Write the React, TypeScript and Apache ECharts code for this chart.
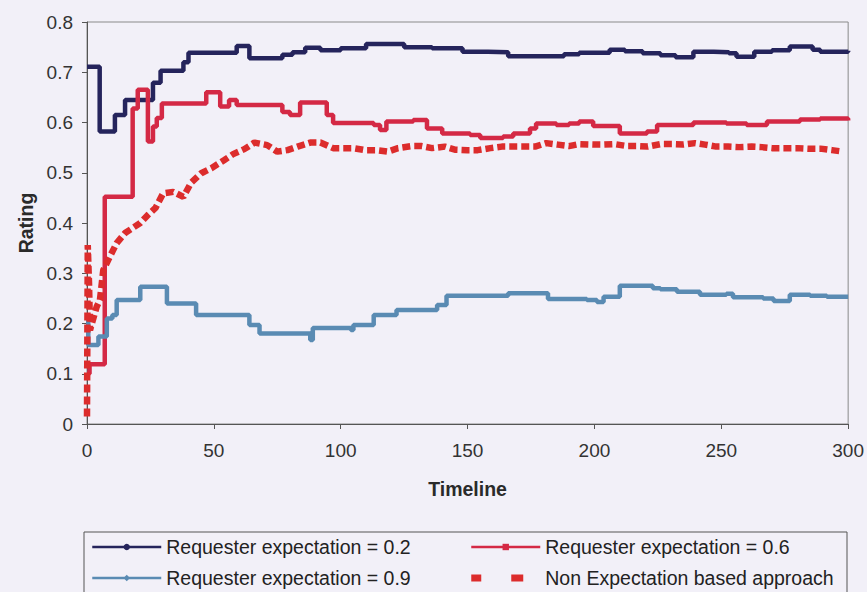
import React, { useEffect, useRef } from "react";
import * as echarts from "echarts";

// Rating over the timeline for each requester expectation level: [timeline, rating]
const expectation02: [number, number][] = [
  [0, 0.711], [5, 0.582], [11, 0.615], [15, 0.645], [26, 0.679], [29, 0.703], [38, 0.72], [40, 0.739],
  [59, 0.752], [64, 0.728], [77, 0.735], [81, 0.74], [86, 0.749], [92, 0.744], [100, 0.748], [110, 0.756],
  [125, 0.75], [136, 0.748], [148, 0.741], [158, 0.74], [166, 0.732], [188, 0.736], [194, 0.739],
  [206, 0.745], [212, 0.742], [219, 0.738], [226, 0.734], [232, 0.73], [239, 0.741], [247, 0.74],
  [253, 0.738], [256, 0.731], [263, 0.741], [270, 0.744], [277, 0.751], [286, 0.745], [289, 0.741], [300, 0.743],
];

const expectation06: [number, number][] = [
  [0, 0.1], [1, 0.119], [7, 0.452], [18, 0.628], [20, 0.665], [24, 0.562], [26, 0.592], [27.5, 0.609],
  [29.5, 0.638], [47, 0.66], [52.5, 0.632], [56, 0.645], [59, 0.635], [77, 0.621], [80, 0.615], [84, 0.64],
  [94.5, 0.615], [97, 0.599], [113, 0.595], [115.5, 0.585], [118, 0.602], [128.6, 0.605], [134, 0.588],
  [140, 0.578], [151, 0.575], [155, 0.569], [164, 0.572], [168, 0.578], [174.6, 0.588], [177, 0.598],
  [185, 0.595], [190, 0.598], [194, 0.602], [199.5, 0.593], [210, 0.578], [220.7, 0.582], [224.7, 0.595],
  [239, 0.6], [252, 0.598], [260, 0.595], [268, 0.602], [281, 0.606], [289, 0.608], [300, 0.604],
];

const expectation09: [number, number][] = [
  [0, 0.21], [0.5, 0.157], [4.5, 0.174], [7.8, 0.21], [10, 0.217], [11.7, 0.247], [21, 0.273], [31.5, 0.24],
  [43, 0.217], [64, 0.197], [68, 0.18], [88, 0.167], [89, 0.191], [104, 0.187], [105, 0.197], [113, 0.217],
  [122, 0.227], [138, 0.237], [141.7, 0.255], [166, 0.26], [181.7, 0.249], [197, 0.247], [201, 0.243],
  [203.6, 0.253], [210, 0.275], [223, 0.27], [226, 0.268], [232.5, 0.263], [241.6, 0.257], [252, 0.259],
  [254.6, 0.252], [266.5, 0.25], [270.6, 0.245], [277, 0.257], [285, 0.255], [291.6, 0.253], [300, 0.253],
];

const nonExpectation: [number, number][] = [
  [0, 0.015], [0.3, 0.356], [0.8, 0.28], [1.2, 0.187], [3.8, 0.233], [5.1, 0.247], [6.4, 0.306], [9, 0.333],
  [11.7, 0.36], [15, 0.38], [18, 0.39], [21, 0.4], [24, 0.416], [27, 0.43], [30, 0.459], [34, 0.462],
  [38, 0.452], [41, 0.48], [45, 0.499], [49, 0.509], [54, 0.525], [57.6, 0.537], [62, 0.547], [66, 0.56],
  [71, 0.555], [75, 0.542], [79, 0.545], [83, 0.552], [88, 0.56], [92, 0.56], [97, 0.549], [105, 0.549],
  [109.6, 0.545], [114, 0.545], [118.6, 0.542], [122.6, 0.549], [128, 0.553], [132, 0.553], [136, 0.549],
  [141, 0.552], [145, 0.546], [150, 0.545], [154, 0.545], [159, 0.549], [163.5, 0.552], [168, 0.552],
  [172.6, 0.552], [176.6, 0.552], [181, 0.559], [185.6, 0.556], [190, 0.553], [194, 0.557], [199.5, 0.556],
  [203.5, 0.556], [208, 0.557], [213, 0.553], [217, 0.553], [221, 0.552], [226, 0.557], [230.6, 0.557],
  [235, 0.556], [239.7, 0.559], [243.6, 0.556], [248, 0.552], [252.7, 0.552], [257, 0.551], [262, 0.552],
  [266, 0.551], [270, 0.549], [275, 0.549], [280, 0.549], [284, 0.548], [289, 0.548], [293.6, 0.545], [298, 0.542],
];

const seriesNames = [
  "Requester expectation = 0.2",
  "Requester expectation = 0.6",
  "Requester expectation = 0.9",
  "Non Expectation based approach",
];

const xTicks = { min: 0, max: 300, interval: 50 };
const yTicks = { min: 0, max: 0.8, interval: 0.1 };

const NAVY = "#25245c";
const CRIMSON = "#d42945";
const STEEL = "#5a8bb3";
const RED = "#dc2c2c";
const FONT = "'Liberation Sans', Arial, sans-serif";

// Legend key for the dashed series: two square dashes across the key width
const DASH_KEY = "path://M0,0h10v7h-10zM40,0h12v7h-12zM68.9,0h0.1v0.1h-0.1z";

export default function App() {
  const ref = useRef<HTMLDivElement>(null);

  useEffect(() => {
    if (!ref.current) return;
    const chart = echarts.init(ref.current, undefined, { renderer: "svg" });

    const stepLine = (name: string, data: [number, number][], color: string, symbol: string) => ({
      name,
      type: "line",
      data,
      step: "end",
      showSymbol: false,
      symbol,
      symbolSize: 6,
      itemStyle: { color },
      lineStyle: { color, width: 4.5 },
    });

    const legendBase = {
      orient: "vertical",
      top: 537,
      height: 70,
      padding: 0,
      itemWidth: 69,
      itemHeight: 8,
      itemGap: 11,
      textStyle: { fontSize: 19.5, color: "#222", fontFamily: FONT },
      lineStyle: { width: 2.5 },
    };

    chart.setOption({
      animation: false,
      backgroundColor: "#f2f0f8",
      textStyle: { fontFamily: FONT },
      grid: {
        left: 87,
        right: 18,
        top: 22,
        bottom: 168,
        show: true,
        borderColor: "#8a8a8a",
        borderWidth: 1,
        backgroundColor: "transparent",
      },
      xAxis: {
        type: "value",
        ...xTicks,
        name: "Timeline",
        nameLocation: "middle",
        nameGap: 55,
        nameTextStyle: { fontSize: 19.5, fontWeight: "bold", color: "#2a2a2a", fontFamily: FONT },
        axisLine: { lineStyle: { color: "#555", width: 1 } },
        axisTick: { show: true, inside: false, length: 5, lineStyle: { color: "#555" } },
        axisLabel: { fontSize: 19, color: "#333", margin: 17, fontFamily: FONT },
        splitLine: { show: false },
      },
      yAxis: {
        type: "value",
        ...yTicks,
        name: "Rating",
        nameLocation: "middle",
        nameGap: 45,
        nameTextStyle: { fontSize: 19.5, fontWeight: "bold", color: "#2a2a2a", fontFamily: FONT },
        axisLine: { show: true, lineStyle: { color: "#555", width: 1 } },
        axisTick: { show: true, inside: false, length: 5, lineStyle: { color: "#555" } },
        axisLabel: {
          fontSize: 19,
          color: "#333",
          margin: 14,
          fontFamily: FONT,
          formatter: (v: number) => (v === 0 ? "0" : v.toFixed(1)),
        },
        splitLine: { show: false },
      },
      legend: [
        { ...legendBase, left: 91, data: [seriesNames[0], seriesNames[2]] },
        {
          ...legendBase,
          left: 470,
          data: [seriesNames[1], { name: seriesNames[3], icon: DASH_KEY }],
        },
      ],
      graphic: [
        {
          type: "rect",
          shape: { x: 84, y: 532, width: 763, height: 80 },
          style: { fill: "transparent", stroke: "#555", lineWidth: 1 },
          silent: true,
        },
      ],
      series: [
        stepLine(seriesNames[0], expectation02, NAVY, "circle"),
        stepLine(seriesNames[1], expectation06, CRIMSON, "rect"),
        stepLine(seriesNames[2], expectation09, STEEL, "diamond"),
        {
          name: seriesNames[3],
          type: "line",
          data: nonExpectation,
          showSymbol: false,
          symbol: "none",
          itemStyle: { color: RED },
          lineStyle: { color: RED, width: 6.5, type: [8, 4] },
        },
      ],
    });

    return () => chart.dispose();
  }, []);

  return <div ref={ref} style={{ width: 867, height: 592, position: "absolute", left: 0, top: 0 }} />;
}
